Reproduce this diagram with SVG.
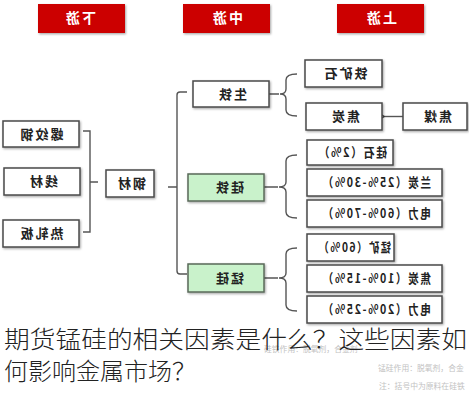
<svg xmlns="http://www.w3.org/2000/svg" width="469" height="400" viewBox="0 0 469 400">
<defs>
<filter id="sh" x="-10%" y="-20%" width="130%" height="150%">
<feDropShadow dx="1" dy="1.2" stdDeviation="0.8" flood-color="#000" flood-opacity="0.35"/>
</filter>
<marker id="arr" markerWidth="10" markerHeight="10" refX="1" refY="5" orient="auto" markerUnits="userSpaceOnUse">
<path d="M7,1 L1,5 L7,9" fill="none" stroke="#444" stroke-width="1.4"/>
</marker>
<style>
.hdr{fill:#CC0000;filter:url(#sh)}
.ht{fill:#fff;font-family:"Noto Sans CJK SC","Noto Sans",sans-serif;font-size:14px;font-weight:bold;text-anchor:middle;letter-spacing:2px}
.box{fill:#fff;stroke:#4a4a4a;stroke-width:1.5;filter:url(#sh)}
.gbox{fill:#C9F2CB;stroke:#5a6a5a;stroke-width:1.5;filter:url(#sh)}
.t{fill:#222;font-family:"Noto Sans CJK SC","Noto Sans",sans-serif;font-size:13px;font-weight:bold;text-anchor:middle;letter-spacing:2px}
.ln{fill:none;stroke:#555;stroke-width:1.4}
.gray{fill:#c2c2c2;font-family:"Noto Sans CJK SC","Noto Sans",sans-serif;font-size:7.8px}
.title{fill:#222;font-family:"Noto Sans CJK SC","Noto Sans",sans-serif;font-size:24px;font-weight:300}
</style>
</defs>
<rect width="469" height="400" fill="#fff"/>

<g id="hdr-down"><rect class="hdr" x="38" y="4" width="87" height="29"/><text class="ht" x="80" y="23" transform="matrix(-1 0 0 1 160 0)">下游</text></g>
<g id="hdr-mid"><rect class="hdr" x="183" y="4" width="87" height="29"/><text class="ht" x="227" y="23" transform="matrix(-1 0 0 1 454 0)">中游</text></g>
<g id="hdr-up"><rect class="hdr" x="337" y="4" width="87" height="29"/><text class="ht" x="381" y="23" transform="matrix(-1 0 0 1 762 0)">上游</text></g>

<g id="connectors">
<path class="ln" d="M83,131 L90,131 L90,232 L83,232 M90,182 L98,182"/>
<path class="ln" d="M168,187 L177,187 M187,92 L180,92 Q177,92 177,95 L177,271 Q177,274 180,274 L187,274"/>
<path class="ln" d="M269,94 L279,94 M297,74 Q286,74 286,80 L286,89 Q286,94 280,94 Q286,94 286,99 L286,110 Q286,116 297,116"/>
<path class="ln" d="M264,187 L278,187 M297,155 Q286,155 286,161 L286,182 Q286,187 279,187 Q286,187 286,192 L286,212 Q286,218 297,218"/>
<path class="ln" d="M264,278 L278,278 M297,248 Q286,248 286,254 L286,273 Q286,278 279,278 Q286,278 286,283 L286,305 Q286,311 297,311"/>
<line class="ln" x1="403" y1="116.5" x2="384" y2="116.5" marker-end="url(#arr)"/>
</g>

<g id="n-rebar"><rect class="box" x="3" y="121" width="76" height="26"/><text class="t" x="41" y="138.5" transform="matrix(-1 0 0 1 82 0)">螺纹钢</text></g>
<g id="n-wire"><rect class="box" x="4" y="168" width="76" height="27"/><text class="t" x="43" y="186" transform="matrix(-1 0 0 1 86 0)">线材</text></g>
<g id="n-hrc"><rect class="box" x="3" y="220" width="76" height="27"/><text class="t" x="41" y="238" transform="matrix(-1 0 0 1 82 0)">热轧板</text></g>
<g id="n-steel"><rect class="box" x="106" y="170" width="48" height="27"/><text class="t" x="131" y="188" transform="matrix(-1 0 0 1 262 0)">钢材</text></g>
<g id="n-pig"><rect class="box" x="193" y="81" width="76" height="26"/><text class="t" x="232" y="98.5" transform="matrix(-1 0 0 1 464 0)">生铁</text></g>
<g id="n-fesi"><rect class="gbox" x="188" y="174" width="76" height="27"/><text class="t" x="229" y="192" transform="matrix(-1 0 0 1 458 0)">硅铁</text></g>
<g id="n-simn"><rect class="gbox" x="188" y="264" width="76" height="28"/><text class="t" x="229" y="282.5" transform="matrix(-1 0 0 1 458 0)">锰硅</text></g>
<g id="n-ore"><rect class="box" x="305" y="60" width="77" height="27"/><text class="t" x="345" y="78" transform="matrix(-1 0 0 1 690 0)">铁矿石</text></g>
<g id="n-coke"><rect class="box" x="306" y="103" width="76" height="27"/><text class="t" x="345" y="121" transform="matrix(-1 0 0 1 690 0)">焦炭</text></g>
<g id="n-cokingcoal"><rect class="box" x="403" y="103" width="64" height="27"/><text class="t" x="437" y="121" transform="matrix(-1 0 0 1 874 0)">焦煤</text></g>
<g id="n-silica"><rect class="box" x="307" y="140" width="86" height="25"/><text class="t" x="352" y="157" textLength="70" lengthAdjust="spacingAndGlyphs" transform="matrix(-1 0 0 1 704 0)">硅石（2%）</text></g>
<g id="n-semicoke"><rect class="box" x="307" y="169" width="135" height="27"/><text class="t" x="376" y="187" textLength="110" lengthAdjust="spacingAndGlyphs" transform="matrix(-1 0 0 1 752 0)">兰炭（25%-30%）</text></g>
<g id="n-power1"><rect class="box" x="307" y="200" width="135" height="27"/><text class="t" x="376" y="218" textLength="110" lengthAdjust="spacingAndGlyphs" transform="matrix(-1 0 0 1 752 0)">电力（60%-70%）</text></g>
<g id="n-mnore"><rect class="box" x="307" y="234" width="87" height="27"/><text class="t" x="354" y="252" textLength="74" lengthAdjust="spacingAndGlyphs" transform="matrix(-1 0 0 1 708 0)">锰矿（60%）</text></g>
<g id="n-coke2"><rect class="box" x="307" y="265" width="135" height="27"/><text class="t" x="376" y="283" textLength="110" lengthAdjust="spacingAndGlyphs" transform="matrix(-1 0 0 1 752 0)">焦炭（10%-15%）</text></g>
<g id="n-power2"><rect class="box" x="307" y="296" width="135" height="27"/><text class="t" x="376" y="314" textLength="110" lengthAdjust="spacingAndGlyphs" transform="matrix(-1 0 0 1 752 0)">电力（20%-25%）</text></g>

<g id="notes">
<text class="gray" x="264" y="352">硅铁作用：脱氧剂，合金剂</text>
<text class="gray" x="378" y="371">锰硅作用：脱氧剂，合金</text>
<text class="gray" x="379" y="389">注：括号中为原料在硅铁</text>
</g>

<g id="title">
<text class="title" x="4" y="348" textLength="463" lengthAdjust="spacingAndGlyphs">期货锰硅的相关因素是什么？这些因素如</text>
<text class="title" x="4" y="380">何影响金属市场？</text>
</g>
</svg>
